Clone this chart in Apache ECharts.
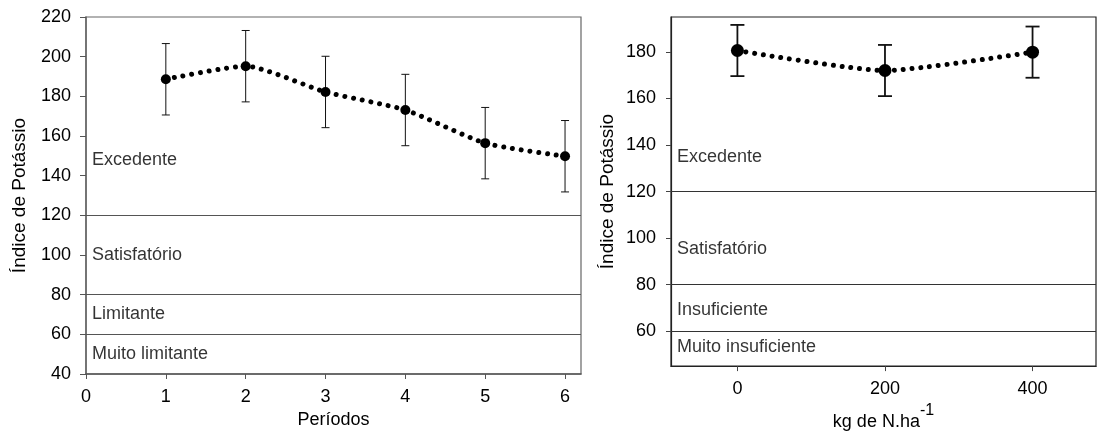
<!DOCTYPE html>
<html>
<head>
<meta charset="utf-8">
<title>Índice de Potássio</title>
<script src="https://cdn.jsdelivr.net/npm/echarts@6/dist/echarts.min.js"></script>
<style>
  html, body { margin: 0; padding: 0; background: #fff; }
  #chart { width: 1097px; height: 436px; }
</style>
</head>
<body>
<div id="chart"></div>
<script>
// Panel A: potassium index per period
const periodos = [1, 2, 3, 4, 5, 6];
const indicePeriodo = [188.6, 195.2, 182.2, 173.1, 156.4, 149.8];
const erroPeriodo = [18, 18, 18, 18, 18, 18];
const periodoTicks = [0, 1, 2, 3, 4, 5, 6];
const periodoYTicks = [40, 60, 80, 100, 120, 140, 160, 180, 200, 220];

// Panel B: potassium index per nitrogen dose
const doses = [0, 200, 400];
const indiceDose = [180.6, 172.0, 179.9];
const erroDose = [11, 11, 11];
const doseTicks = [0, 200, 400];
const doseYTicks = [60, 80, 100, 120, 140, 160, 180];

// Class limits and class names
const limites = [120, 80, 60];
const classesA = ['Excedente', 'Satisfatório', 'Limitante', 'Muito limitante'];
const classesAy = [148, 100, 70, 50];
const classesB = ['Excedente', 'Satisfatório', 'Insuficiente', 'Muito insuficiente'];
const classesBy = [135, 95.5, 69, 53];

const FONT = "'Liberation Sans', Arial, sans-serif";
const FS = 18;

function errorBars(axisIdx, xs, means, errs, capHalf, width) {
  return {
    type: 'custom',
    xAxisIndex: axisIdx,
    yAxisIndex: axisIdx,
    silent: true,
    z: 3,
    encode: { x: 0, y: [1, 2] },
    data: xs.map((x, i) => [x, means[i] - errs[i], means[i] + errs[i]]),
    renderItem(params, api) {
      const lo = api.coord([api.value(0), api.value(1)]);
      const hi = api.coord([api.value(0), api.value(2)]);
      const st = { stroke: '#111', lineWidth: width };
      return {
        type: 'group',
        children: [
          { type: 'line', shape: { x1: hi[0], y1: hi[1], x2: lo[0], y2: lo[1] }, style: st },
          { type: 'line', shape: { x1: hi[0] - capHalf, y1: hi[1], x2: hi[0] + capHalf, y2: hi[1] }, style: st },
          { type: 'line', shape: { x1: lo[0] - capHalf, y1: lo[1], x2: lo[0] + capHalf, y2: lo[1] }, style: st }
        ]
      };
    }
  };
}

function classLabels(axisIdx, xMin, names, ys, lineColor) {
  return {
    type: 'scatter',
    xAxisIndex: axisIdx,
    yAxisIndex: axisIdx,
    silent: true,
    symbolSize: 0,
    data: names.map((n, i) => ({ name: n, value: [xMin, ys[i]] })),
    label: {
      show: true,
      position: 'right',
      distance: 6,
      formatter: p => p.name,
      color: '#000',
      fontFamily: FONT,
      fontSize: FS
    },
    markLine: {
      silent: true,
      symbol: 'none',
      label: { show: false },
      lineStyle: { type: 'solid', color: lineColor, width: 1.2 },
      data: limites.map(v => ({ yAxis: v }))
    },
    z: 1
  };
}

function meanLine(axisIdx, xs, means, size) {
  return {
    type: 'line',
    xAxisIndex: axisIdx,
    yAxisIndex: axisIdx,
    data: xs.map((x, i) => [x, means[i]]),
    smooth: 0.2,
    symbol: 'circle',
    symbolSize: size,
    itemStyle: { color: '#000' },
    lineStyle: { color: '#000', width: 5, type: [0.01, 8.8], cap: 'round' },
    z: 4
  };
}

const axisLabelStyle = { color: '#000', fontFamily: FONT, fontSize: FS };

const chart = echarts.init(document.getElementById('chart'));
chart.setOption({
  animation: false,
  grid: [
    { left: 86, top: 17, width: 495, height: 357, show: true, borderColor: '#666', borderWidth: 1.2 },
    { left: 671, top: 17, width: 425, height: 357, show: true, borderColor: '#222', borderWidth: 1.2 }
  ],
  xAxis: [
    {
      gridIndex: 0, type: 'value', min: 0, max: 6.2,
      name: 'Períodos', nameLocation: 'middle', nameGap: 24,
      nameTextStyle: { color: '#000', fontFamily: FONT, fontSize: FS },
      axisLine: { onZero: false, lineStyle: { color: '#555', width: 1.5 } },
      axisTick: { show: true, length: 5, inside: false, customValues: periodoTicks, lineStyle: { color: '#555' } },
      axisLabel: Object.assign({ margin: 14, customValues: periodoTicks }, axisLabelStyle),
      splitLine: { show: false }
    },
    {
      gridIndex: 1, type: 'value', min: -90, max: 486,
      name: '{a|kg de N.ha}{b|-1}', nameLocation: 'middle', nameGap: 22,
      nameTextStyle: {
        color: '#000', fontFamily: FONT, fontSize: FS,
        rich: {
          a: { color: '#000', fontFamily: FONT, fontSize: FS, lineHeight: 28, verticalAlign: 'bottom' },
          b: { color: '#000', fontFamily: FONT, fontSize: 16, lineHeight: 28, verticalAlign: 'top' }
        }
      },
      axisLine: { onZero: false, lineStyle: { color: '#222', width: 1.2 } },
      axisTick: { show: true, length: 5, customValues: doseTicks, lineStyle: { color: '#444' } },
      axisLabel: Object.assign({ margin: 14, customValues: doseTicks }, axisLabelStyle),
      splitLine: { show: false }
    }
  ],
  yAxis: [
    {
      gridIndex: 0, type: 'value', min: 40, max: 220, interval: 20,
      name: 'Índice de Potássio', nameLocation: 'middle', nameGap: 57, nameRotate: 90,
      nameTextStyle: { color: '#000', fontFamily: FONT, fontSize: 19 },
      axisLine: { show: true, onZero: false, lineStyle: { color: '#666', width: 1.5 } },
      axisTick: { show: true, length: 6, customValues: periodoYTicks, lineStyle: { color: '#555' } },
      axisLabel: Object.assign({ margin: 15, customValues: periodoYTicks }, axisLabelStyle),
      splitLine: { show: false }
    },
    {
      gridIndex: 1, type: 'value', min: 45, max: 195,
      name: 'Índice de Potássio', nameLocation: 'middle', nameGap: 54, nameRotate: 90,
      nameTextStyle: { color: '#000', fontFamily: FONT, fontSize: 19 },
      axisLine: { show: true, onZero: false, lineStyle: { color: '#222', width: 1.2 } },
      axisTick: { show: true, length: 5, customValues: doseYTicks, lineStyle: { color: '#444' } },
      axisLabel: Object.assign({ margin: 15, customValues: doseYTicks }, axisLabelStyle),
      splitLine: { show: false }
    }
  ],
  series: [
    classLabels(0, 0, classesA, classesAy, '#555'),
    errorBars(0, periodos, indicePeriodo, erroPeriodo, 4, 1),
    meanLine(0, periodos, indicePeriodo, 10),
    classLabels(1, -90, classesB, classesBy, '#333'),
    errorBars(1, doses, indiceDose, erroDose, 7, 1.8),
    meanLine(1, doses, indiceDose, 13)
  ]
});
</script>
</body>
</html>
